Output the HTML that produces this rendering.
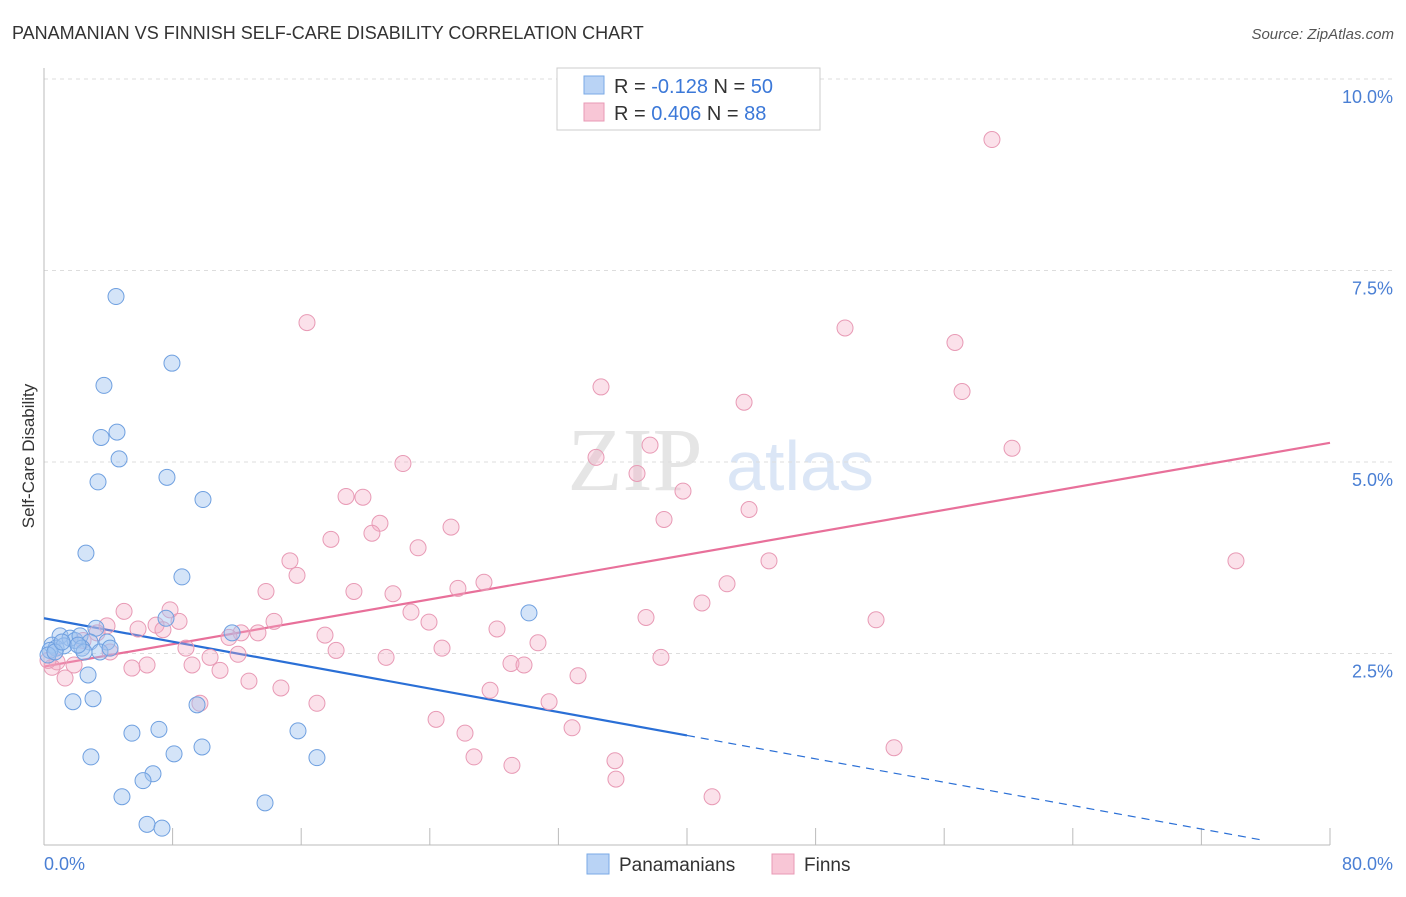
<!DOCTYPE html>
<html><head><meta charset="utf-8"><style>
body{margin:0;background:#fff;font-family:"Liberation Sans",sans-serif;}
</style></head><body>
<svg id="chart" width="1406" height="892" xmlns="http://www.w3.org/2000/svg" font-family="Liberation Sans, sans-serif">
<text x="12" y="39" font-size="18" fill="#333">PANAMANIAN VS FINNISH SELF-CARE DISABILITY CORRELATION CHART</text>
<text x="1394" y="39" font-size="15" fill="#555" font-style="italic" text-anchor="end">Source: ZipAtlas.com</text>
<text transform="translate(34,456) rotate(-90)" font-size="17" fill="#333" text-anchor="middle">Self-Care Disability</text>
<g opacity="0.5">
<text x="635" y="490" font-size="90" fill="#ccc" font-family="Liberation Serif, serif" text-anchor="middle">ZIP</text>
<text x="800" y="490" font-size="70" fill="#b8cfee" text-anchor="middle">atlas</text>
</g>
<g id="grid"></g><g id="axes"></g><g id="lines"></g><g id="points"></g>
<g>
<rect x="557" y="68" width="263" height="62" fill="#fff" stroke="#ccc"/>
<rect x="584" y="76" width="20" height="18" fill="#b9d3f5" stroke="#7aaae6"/>
<text x="614" y="93" font-size="20" fill="#333">R = <tspan fill="#3b78d8">-0.128</tspan>   N = <tspan fill="#3b78d8">50</tspan></text>
<rect x="584" y="103" width="20" height="18" fill="#f8c6d6" stroke="#e89ab5"/>
<text x="614" y="120" font-size="20" fill="#333">R =  <tspan fill="#3b78d8">0.406</tspan>   N =  <tspan fill="#3b78d8">88</tspan></text>
</g>
<g>
<rect x="587" y="854" width="22" height="20" fill="#b9d3f5" stroke="#7aaae6"/>
<text x="619" y="871" font-size="19" fill="#333">Panamanians</text>
<rect x="772" y="854" width="22" height="20" fill="#f8c6d6" stroke="#e89ab5"/>
<text x="804" y="871" font-size="19" fill="#333">Finns</text>
</g>
</svg>
<script>
const yTicks=[2.5,5,7.5,10];
const yTickLabels=["2.5%","5.0%","7.5%","10.0%"];
const xTickLabels=["0.0%","80.0%"];
const blueX=[4.48,7.96,3.73,4.54,3.55,4.67,3.36,7.65,9.89,2.61,8.58,30.17,3.23,11.70,7.59,1.00,1.62,1.93,2.24,2.86,3.92,0.50,0.75,1.24,0.37,2.36,2.49,3.48,2.74,1.80,3.05,9.52,5.47,7.15,15.80,2.92,8.09,9.83,16.98,6.78,6.16,4.85,13.75,6.41,7.34,0.25,0.68,1.12,4.11,2.12];
const blueY=[7.16,6.29,6.00,5.39,5.32,5.04,4.74,4.80,4.51,3.81,3.50,3.03,2.83,2.77,2.96,2.73,2.70,2.67,2.73,2.65,2.65,2.61,2.57,2.60,2.54,2.57,2.52,2.52,2.22,1.87,1.91,1.83,1.46,1.51,1.49,1.15,1.19,1.28,1.14,0.93,0.84,0.63,0.55,0.27,0.22,2.48,2.52,2.65,2.57,2.61];
const pinkX=[58.97,16.36,49.83,56.67,34.65,57.11,43.55,22.33,60.22,37.70,34.34,36.89,39.75,18.79,19.84,43.86,38.57,20.90,25.32,20.40,17.85,23.27,45.10,74.15,15.30,15.74,27.37,42.49,25.75,13.81,19.28,21.71,40.93,22.83,4.98,7.84,37.45,51.76,14.31,8.40,23.95,3.92,5.85,6.97,7.40,28.18,17.48,12.26,13.31,11.51,30.73,8.83,24.76,18.17,4.11,21.28,10.33,38.38,29.05,29.86,6.41,5.47,9.21,10.95,12.07,1.87,0.81,0.50,1.31,12.75,14.74,33.22,27.75,16.98,9.70,31.42,24.39,32.85,26.19,52.88,26.75,35.52,29.11,35.58,41.56,2.43,3.30,0.25];
const pinkY=[9.21,6.82,6.75,6.56,5.98,5.92,5.78,4.98,5.18,5.22,5.06,4.85,4.62,4.55,4.54,4.38,4.25,4.20,4.15,4.07,3.99,3.88,3.71,3.71,3.71,3.52,3.43,3.41,3.35,3.31,3.31,3.28,3.16,3.04,3.05,3.07,2.97,2.94,2.92,2.92,2.91,2.86,2.82,2.87,2.81,2.82,2.74,2.77,2.77,2.71,2.64,2.57,2.57,2.54,2.52,2.45,2.45,2.45,2.37,2.35,2.35,2.31,2.35,2.28,2.49,2.35,2.39,2.32,2.18,2.14,2.05,2.21,2.02,1.85,1.85,1.87,1.64,1.53,1.46,1.27,1.15,1.10,1.04,0.86,0.63,2.67,2.77,2.41];
const blueTrend=[[0,2.96],[40,1.43]];
const blueTrendExt=[[40,1.43],[75.9,0.06]];
const pinkTrend=[[0,2.33],[80,5.25]];
const NS="http://www.w3.org/2000/svg";
const sx=v=>44+v/80*1286;
const sy=v=>845-v/10*766;
function mk(tag,attrs,parent){const e=document.createElementNS(NS,tag);for(const k in attrs)e.setAttribute(k,attrs[k]);parent.appendChild(e);return e;}
const grid=document.getElementById('grid'),axes=document.getElementById('axes'),lines=document.getElementById('lines'),pts=document.getElementById('points');
yTicks.forEach((t,i)=>{
 const l=mk('line',{x1:44,x2:1394,y1:sy(t),y2:sy(t),stroke:'#ddd','stroke-dasharray':'4,4'},grid);
 
 
 const tx=mk('text',{x:1393,y:sy(t)+24,'font-size':18,fill:'#4a7fd4','text-anchor':'end'},axes);
 tx.textContent=yTickLabels[i];
 
 
});
const yax=mk('line',{x1:44,x2:44,y1:68,y2:845,stroke:'#bbb'},axes);


const xax=mk('line',{x1:44,x2:1330,y1:845,y2:845,stroke:'#bbb'},axes);


for(let i=0;i<=10;i++){const t=mk('line',{x1:sx(i*8),x2:sx(i*8),y1:828,y2:845,stroke:'#bbb'},axes);
 
 }
[[0,'start',44],[80,'end',1393]].forEach((d,i)=>{const t=mk('text',{x:d[2],y:870,'font-size':18,fill:'#4a7fd4','text-anchor':d[1]},axes);t.textContent=xTickLabels[i];
 
 });
function drawPts(X,Y,fill,stroke,name){X.forEach((x,i)=>{const c=mk('circle',{cx:sx(x),cy:sy(Y[i]),r:8,fill:fill,stroke:stroke,'stroke-width':1},pts);
 
 });}
drawPts(pinkX,pinkY,'rgba(244,170,195,0.35)','#e89ab5','finns-point');
drawPts(blueX,blueY,'rgba(160,196,240,0.45)','#6fa0e0','panamanians-point');
function ln(p,st,w,dash,name){const l=mk('line',{x1:sx(p[0][0]),y1:sy(p[0][1]),x2:sx(p[1][0]),y2:sy(p[1][1]),stroke:st,'stroke-width':w},lines);if(dash)l.setAttribute('stroke-dasharray',dash);
 
 }
ln(pinkTrend,'#e8709a',2.2,null,'finns-trend-line');
ln(blueTrend,'#2a6fd6',2.2,null,'panamanians-trend-line');
ln(blueTrendExt,'#2a6fd6',1.2,'8,6','panamanians-trend-extension');
</script>
</body></html>
